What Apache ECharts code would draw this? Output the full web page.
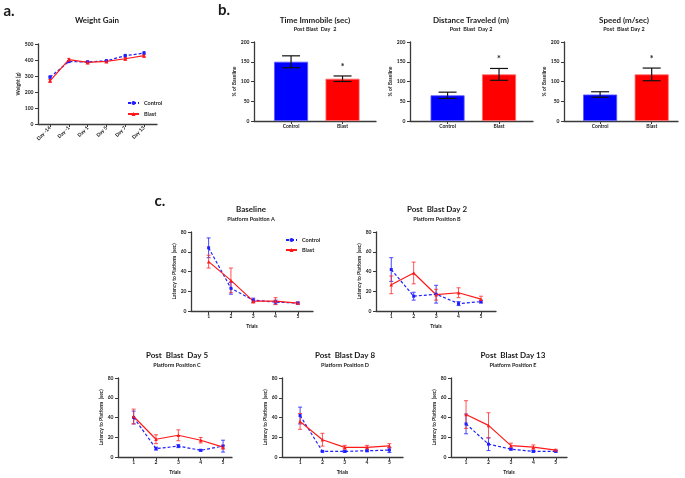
<!DOCTYPE html>
<html><head><meta charset="utf-8">
<script src="https://cdn.jsdelivr.net/npm/echarts@6/dist/echarts.min.js"></script>
<style>html,body{margin:0;padding:0;background:#fff}#c{width:685px;height:478px}</style>
</head><body><div id="c"></div>
<script>
// ---------- DATA ----------
const weightDays = ['Day -14', 'Day -1', 'Day 1', 'Day 5', 'Day 7', 'Day 13'];
const weightControl = [293, 390, 388, 395, 427, 443];
const weightControlErr = [7, 6, 6, 6, 8, 8];
const weightBlast = [270, 402, 385, 391, 408, 427];
const weightBlastErr = [8, 8, 8, 6, 8, 8];

const barGroups = ['Control', 'Blast'];
const immobileMean = [150, 107];
const immobileErr = [15, 7];
const distanceMean = [65, 118];
const distanceErr = [8, 15];
const speedMean = [67, 118];
const speedErr = [7, 16];
const sigMarks = ['', '*'];

const trials = [1, 2, 3, 4, 5];
const baselineControl = [64, 23, 11, 9, 8];
const baselineControlErr = [10, 6, 2, 2, 1];
const baselineBlast = [50, 31, 10, 10, 8];
const baselineBlastErr = [6.5, 12.5, 2, 3.5, 1];

const day2Control = [42, 15, 17, 7.5, 9.5];
const day2ControlErr = [12, 4, 9, 2, 1.5];
const day2Blast = [26.5, 38.5, 16.5, 18.5, 12];
const day2BlastErr = [9, 11, 5.5, 5, 3];

const day5Control = [40, 8.5, 11, 6.8, 11];
const day5ControlErr = [6.5, 1.5, 1.5, 0.8, 6];
const day5Blast = [41, 18, 22, 17, 10];
const day5BlastErr = [7.5, 4.5, 5.5, 2.8, 2];

const day8Control = [42, 5.7, 5.7, 6.3, 7];
const day8ControlErr = [8.5, 0.5, 1, 0.8, 2.5];
const day8Blast = [36, 17.5, 9.8, 9.8, 11.3];
const day8BlastErr = [8, 6.5, 2, 2, 2.2];

const day13Control = [33.5, 13, 8, 5.7, 5.7];
const day13ControlErr = [10, 6.5, 1, 0.8, 0.8];
const day13Blast = [43, 32, 11.5, 10, 7];
const day13BlastErr = [14, 12.8, 2.5, 2.2, 0.8];

// ---------- STYLE ----------
const FONT = 'Lato';
const TXT = '#1a1a1a';
const AX = '#3a3a3a';
const BLUE = '#1f1fff';
const RED = '#ff1a1a';

const grids = [], xAxes = [], yAxes = [], series = [], graphics = [];

function text(x, y, str, size, weight) {
  graphics.push({type: 'text', x: x, y: y, silent: true,
    style: {text: str, fontSize: size, fontWeight: weight || 'bold', fontFamily: FONT, fill: TXT,
      align: 'center', verticalAlign: 'middle'}});
}

function addPanel(c) {
  const i = grids.length;
  grids.push({left: c.left, top: c.top, width: c.width, height: c.height, containLabel: false, outerBoundsMode: 'none'});
  const lab = {fontSize: 5, fontFamily: FONT, fontWeight: 'bold', color: TXT};
  xAxes.push({gridIndex: i, type: 'value', min: c.xmin, max: c.xmax, splitLine: {show: false},
    axisLine: {show: true, onZero: false, lineStyle: {color: AX, width: 1.3}},
    axisTick: {show: true, customValues: c.xticks, length: 3, lineStyle: {color: AX, width: 1}},
    axisLabel: Object.assign({show: true, customValues: c.xticks, formatter: c.xfmt, margin: c.xmargin || 3, rotate: c.rotate || 0}, lab),
    name: c.xname || '', nameLocation: 'middle', nameGap: c.xnameGap || 14, nameTextStyle: lab});
  yAxes.push({gridIndex: i, type: 'value', min: 0, max: c.ymax, interval: c.yint, splitLine: {show: false},
    axisLine: {show: true, onZero: false, lineStyle: {color: AX, width: 1.3}},
    axisTick: {show: true, length: 3, lineStyle: {color: AX, width: 1}},
    axisLabel: Object.assign({margin: 4.5}, lab),
    name: c.yname, nameLocation: 'middle', nameRotate: 90, nameGap: c.ynameGap, nameTextStyle: lab});
  return i;
}

function errBars(i, xs, means, errs, color, capHalf, lw) {
  series.push({type: 'custom', xAxisIndex: i, yAxisIndex: i, silent: true, z: 3,
    encode: {x: 0, y: [1, 2]},
    data: xs.map((x, k) => [x, means[k] - errs[k], means[k] + errs[k]]),
    renderItem: function (params, api) {
      const lo = api.coord([api.value(0), api.value(1)]);
      const hi = api.coord([api.value(0), api.value(2)]);
      const st = {stroke: color, lineWidth: lw};
      return {type: 'group', children: [
        {type: 'line', shape: {x1: lo[0], y1: lo[1], x2: hi[0], y2: hi[1]}, style: st},
        {type: 'line', shape: {x1: lo[0] - capHalf, y1: lo[1], x2: lo[0] + capHalf, y2: lo[1]}, style: st},
        {type: 'line', shape: {x1: hi[0] - capHalf, y1: hi[1], x2: hi[0] + capHalf, y2: hi[1]}, style: st}
      ]};
    }});
}

function lineSeries(i, name, xs, vals, dashed, color, symbol, size) {
  series.push({type: 'line', name: name, xAxisIndex: i, yAxisIndex: i, z: 4,
    data: xs.map((x, k) => [x, vals[k]]), symbol: symbol, symbolSize: size,
    lineStyle: {color: color, width: 1.2, type: dashed ? [3, 2] : 'solid'},
    itemStyle: {color: color}});
}

// ---------- PANEL a ----------
text(9, 11, 'a.', 15);
text(97, 20, 'Weight Gain', 8);
const wIdx = weightDays.map((d, k) => k);
const wi = addPanel({left: 38, top: 44, width: 119, height: 80, xmin: -0.64, xmax: 5.69,
  xticks: wIdx, xfmt: v => weightDays[Math.round(v)] || '', rotate: 45, xmargin: 3,
  ymax: 500, yint: 100, yname: 'Weight (g)', ynameGap: 14});
lineSeries(wi, 'Control', wIdx, weightControl, true, BLUE, 'circle', 3.5);
lineSeries(wi, 'Blast', wIdx, weightBlast, false, RED, 'triangle', 4);
errBars(wi, wIdx, weightControl, weightControlErr, BLUE, 1.5, 1);
errBars(wi, wIdx, weightBlast, weightBlastErr, RED, 1.5, 1);

// ---------- PANEL b ----------
text(224, 10, 'b.', 15);
function barPanel(pos, means, errs, title, sub) {
  text(pos.cx, 20, title, 8);
  text(pos.cx, 29, sub, 5.5);
  const idx = barGroups.map((g, k) => k);
  const i = addPanel({left: pos.left, top: 42, width: pos.width, height: 79, xmin: pos.xmin, xmax: pos.xmax,
    xticks: idx, xfmt: v => barGroups[Math.round(v)] || '', xmargin: 3,
    ymax: 200, yint: 50, yname: '% of Baseline', ynameGap: 12});
  series.push({type: 'bar', xAxisIndex: i, yAxisIndex: i, barWidth: 34, z: 2,
    data: idx.map(k => ({value: [k, means[k]], itemStyle: {color: k === 0 ? '#0000ff' : '#ff0000', borderColor: k === 0 ? '#5a5aff' : '#ff6a6a', borderWidth: 0.8}}))});
  errBars(i, idx, means, errs, '#111', 9, 1.2);
  series.push({type: 'custom', xAxisIndex: i, yAxisIndex: i, silent: true, z: 5,
    data: idx.map(k => [k, means[k] + errs[k], k]),
    renderItem: function (params, api) {
      const c = api.coord([api.value(0), api.value(1)]);
      return {type: 'text', x: c[0], y: c[1] - 9,
        style: {text: sigMarks[api.value(2)], fontSize: 9, fontWeight: 'bold', fontFamily: FONT, fill: TXT, align: 'center', verticalAlign: 'middle'}};
    }});
}
barPanel({left: 254, width: 122, xmin: -0.72, xmax: 1.65, cx: 315}, immobileMean, immobileErr, 'Time Immobile (sec)', 'Post Blast  Day  2');
barPanel({left: 410, width: 123, xmin: -0.73, xmax: 1.66, cx: 471}, distanceMean, distanceErr, 'Distance Traveled (m)', 'Post  Blast  Day 2');
barPanel({left: 564, width: 114, xmin: -0.70, xmax: 1.51, cx: 624}, speedMean, speedErr, 'Speed (m/sec)', 'Post  Blast Day 2');

// ---------- PANEL c ----------
text(160, 201, 'c.', 15);
function latencyPanel(pos, ctrl, ctrlErr, blast, blastErr, title, sub) {
  text(pos.cx, pos.top - 23, title, 8);
  text(pos.cx, pos.top - 13, sub, 5.5);
  const i = addPanel({left: pos.left, top: pos.top, width: pos.width, height: 79, xmin: pos.xmin, xmax: pos.xmax,
    xticks: trials, xfmt: v => String(v), xmargin: 3, xname: 'Trials', xnameGap: 13,
    ymax: 80, yint: 20, yname: 'Latency to Platform  (sec)', ynameGap: 9});
  errBars(i, trials, ctrl, ctrlErr, 'rgba(40,40,255,0.85)', 2, 1);
  errBars(i, trials, blast, blastErr, 'rgba(255,40,40,0.8)', 2, 1);
  lineSeries(i, 'Control', trials, ctrl, true, BLUE, 'rect', 3);
  lineSeries(i, 'Blast', trials, blast, false, RED, 'triangle', 3.5);
}
latencyPanel({left: 191, top: 232, width: 122, xmin: 0.21, xmax: 5.68, cx: 251}, baselineControl, baselineControlErr, baselineBlast, baselineBlastErr, 'Baseline', 'Platform Position A');
latencyPanel({left: 376, top: 232, width: 120, xmin: 0.32, xmax: 5.67, cx: 437}, day2Control, day2ControlErr, day2Blast, day2BlastErr, 'Post  Blast Day 2', 'Platform Position B');
latencyPanel({left: 118, top: 378, width: 114, xmin: 0.30, xmax: 5.40, cx: 177}, day5Control, day5ControlErr, day5Blast, day5BlastErr, 'Post  Blast  Day 5', 'Platform Position C');
latencyPanel({left: 282, top: 378, width: 121, xmin: 0.19, xmax: 5.61, cx: 345}, day8Control, day8ControlErr, day8Blast, day8BlastErr, 'Post  Blast Day 8', 'Platform Position D');
latencyPanel({left: 451, top: 378, width: 116, xmin: 0.33, xmax: 5.50, cx: 513}, day13Control, day13ControlErr, day13Blast, day13BlastErr, 'Post  Blast Day 13', 'Platform Position E');

const legendText = {fontSize: 5.5, fontFamily: FONT, fontWeight: 'bold', color: TXT};
const chart = echarts.init(document.getElementById('c'), null, {renderer: 'canvas', width: 685, height: 478});
chart.setOption({
  backgroundColor: '#ffffff',
  animation: false,
  textStyle: {fontFamily: FONT},
  grid: grids, xAxis: xAxes, yAxis: yAxes, series: series, graphic: graphics,
  legend: [
    {left: 122, top: 95, orient: 'vertical', itemGap: 5, itemWidth: 11, itemHeight: 5, data: ['Control', 'Blast'], textStyle: legendText, selectedMode: false},
    {left: 280, top: 232, orient: 'vertical', itemGap: 4, itemWidth: 11, itemHeight: 5, data: ['Control', 'Blast'], textStyle: legendText, selectedMode: false}
  ]
});
</script>
</body></html>
